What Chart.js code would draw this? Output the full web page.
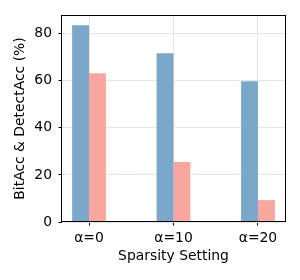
<!DOCTYPE html>
<html>
<head>
<meta charset="utf-8">
<script src="https://cdn.jsdelivr.net/npm/chart.js@4/dist/chart.umd.min.js"></script>
<style>
  html, body { margin: 0; padding: 0; background: #fff; }
  #chart { display: block; }
</style>
</head>
<body>
<canvas id="chart" width="300" height="280"></canvas>
<script>
// Data
var categories = ["α=0", "α=10", "α=20"];
var bitAcc = [83.6, 71.7, 59.8];
var detectAcc = [63.2, 25.5, 9.3];
var yTicks = [0, 20, 40, 60, 80];

var blue = "#7ba7cb";
var pink = "#f9a79e";

function toPoints(values) {
    var out = [];
    for (var i = 0; i < values.length; i++) {
        out.push({ x: i, y: values[i] });
    }
    return out;
}

// full black frame around the plot area, like matplotlib's spines
var framePlugin = {
    id: "frame",
    afterDraw: function(chart) {
        var a = chart.chartArea;
        var c = chart.ctx;
        c.save();
        c.strokeStyle = "#000";
        c.lineWidth = 1;
        c.strokeRect(Math.round(a.left) - 0.5, Math.round(a.top) + 0.5,
                     Math.round(a.right - a.left) + 1, Math.round(a.bottom - a.top) - 1);
        c.restore();
    }
};

Chart.defaults.font.family = "'DejaVu Sans', sans-serif";
Chart.defaults.font.size = 13.9;
Chart.defaults.color = "#000";

var ctx = document.getElementById("chart");
var myChart = new Chart(ctx, {
    type: "bar",
    data: {
        datasets: [{
            label: "BitAcc",
            data: toPoints(bitAcc),
            backgroundColor: blue,
            borderWidth: 0
        },
        {
            label: "DetectAcc",
            data: toPoints(detectAcc),
            backgroundColor: pink,
            borderWidth: 0
        }]
    },
    options: {
        responsive: false,
        animation: false,
        categoryPercentage: 0.4,
        barPercentage: 1,
        layout: { padding: { left: 0, top: 15, right: 15, bottom: 0 } },
        plugins: {
            legend: { display: false },
            tooltip: { enabled: false }
        },
        scales: {
            x: {
                type: "linear",
                offset: false,
                min: -0.32,
                max: 2.32,
                afterBuildTicks: function(scale) {
                    scale.ticks = categories.map(function(c, i) { return { value: i }; });
                },
                afterFit: function(scale) { scale.height = 58; },
                ticks: {
                    padding: 5,
                    callback: function(value) { return categories[value]; }
                },
                grid: {
                    offset: false,
                    color: "#e5e5e5",
                    tickColor: "#000",
                    tickLength: 3.5
                },
                border: { display: false },
                title: {
                    display: true,
                    text: "Sparsity Setting",
                    padding: { top: 0, bottom: 15.7 }
                }
            },
            y: {
                min: 0,
                max: 87.9,
                afterBuildTicks: function(scale) {
                    scale.ticks = yTicks.map(function(v) { return { value: v }; });
                },
                afterFit: function(scale) { scale.width = 62; },
                ticks: { padding: 6.5 },
                grid: {
                    color: "#e5e5e5",
                    tickColor: "#000",
                    tickLength: 3.5
                },
                border: { display: false },
                title: {
                    display: true,
                    text: "BitAcc & DetectAcc (%)",
                    padding: { top: 12, bottom: 0 }
                }
            }
        }
    },
    plugins: [framePlugin]
});
</script>
</body>
</html>
